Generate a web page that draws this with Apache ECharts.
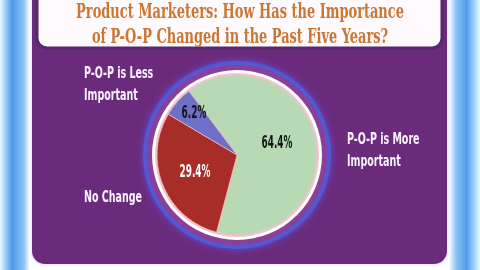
<!DOCTYPE html>
<html><head><meta charset="utf-8">
<script src="https://cdn.jsdelivr.net/npm/echarts@6/dist/echarts.min.js"></script>
<style>html,body{margin:0;padding:0;background:#eef7ff;}#c{width:480px;height:270px;}</style>
</head><body><div id="c"></div>
<script>
// ---- data ----
const titleLines = ['Product Marketers: How Has the Importance', 'of P-O-P Changed in the Past Five Years?'];
const categories = ['P-O-P is More\nImportant', 'No Change', 'P-O-P is Less\nImportant'];
const values = [64.4, 29.4, 6.2];

// ---- styles / layout ----
const sliceColors = ['#b7dab5', '#a82d28', '#6e6fc6'];
const pctColors = ['#141414', '#ffffff', '#141414'];
const CX = 237, CY = 155, R = 80;
const labelPos = [[347, 129], [84, 187], [84, 63]];
const pctShift = [[-4, -3], [-4, 1], [-20, -13]];
const cond = "'DejaVu Sans Condensed','DejaVu Sans',sans-serif";
const slab = "'DejaVu Serif Condensed','DejaVu Serif',serif";

const chart = echarts.init(document.getElementById('c'), null, {renderer: 'canvas'});
const LG = echarts.graphic.LinearGradient;

const graphics = [
  {type: 'rect', z: -10, silent: true, shape: {x: 0, y: 0, width: 480, height: 270},
   style: {fill: new LG(0, 0, 1, 0, [
     {offset: 0, color: '#e6fbff'}, {offset: 0.025, color: '#4f9aea'},
     {offset: 0.05, color: '#8cc4f4'}, {offset: 0.062, color: '#ffffff'},
     {offset: 0.935, color: '#ffffff'}, {offset: 0.95, color: '#8cc4f4'},
     {offset: 0.972, color: '#4f9aea'}, {offset: 1, color: '#e6fbff'}])}},
  {type: 'rect', z: -9, silent: true, shape: {x: 31, y: -20, width: 417, height: 285, r: 14},
   style: {fill: '#6b2b7d', stroke: '#f4ecff', lineWidth: 2}},
  {type: 'rect', z: -8, silent: true, shape: {x: 37, y: -20, width: 405, height: 68, r: 10},
   style: {fill: '#fffafd', stroke: '#57286a', lineWidth: 3}},
  {type: 'circle', z: -7, silent: true, shape: {cx: CX, cy: CY, r: R + 14},
   style: {fill: '#5558d0', shadowBlur: 6, shadowColor: 'rgba(80,90,255,0.8)'}},
  {type: 'circle', z: -6, silent: true, shape: {cx: CX, cy: CY, r: R + 10},
   style: {fill: '#8a3f98'}},
  {type: 'circle', z: -5, silent: true, shape: {cx: CX, cy: CY, r: R + 5},
   style: {fill: '#ffffff'}},
  {type: 'circle', z: -4, silent: true, shape: {cx: CX, cy: CY, r: R + 2},
   style: {fill: '#ecc4d6'}}
];
titleLines.forEach((t, i) => {
  graphics.push({type: 'text', silent: true, x: 240, y: 13 + i * 25, scaleX: 0.72,
    style: {text: t, font: 'bold 20px ' + slab, fill: '#cc7632',
            align: 'center', verticalAlign: 'middle', textAlign: 'center', textVerticalAlign: 'middle'}});
});
categories.forEach((c, i) => {
  graphics.push({type: 'text', silent: true, x: labelPos[i][0], y: labelPos[i][1], scaleX: 0.66,
    style: {text: c, font: 'bold 16px ' + cond, fill: '#fbf4ff', lineHeight: 22}});
});

chart.setOption({
  animation: false,
  graphic: graphics,
  series: [{
    type: 'pie', center: [CX, CY], radius: R, startAngle: 127, clockwise: true,
    silent: true, avoidLabelOverlap: false,
    itemStyle: {borderColor: 'rgba(255,190,190,0.7)', borderWidth: 1},
    label: {show: true, position: 'inside', formatter: '{c}%', fontSize: 18,
            fontFamily: cond, fontWeight: 'bold'},
    labelLine: {show: false},
    labelLayout: p => ({dx: pctShift[p.dataIndex][0], dy: pctShift[p.dataIndex][1]}),
    data: values.map((v, i) => ({name: categories[i], value: v,
      itemStyle: {color: sliceColors[i]}, label: {color: pctColors[i]}}))
  }]
});

// condense the percentage labels horizontally (reference uses a narrow face)
function condenseLabels() {
  const data = chart.getModel().getSeriesByIndex(0).getData();
  values.forEach((v, i) => {
    const el = data.getItemGraphicEl(i);
    const txt = el && el.getTextContent && el.getTextContent();
    if (txt) { txt.scaleX = 0.55; txt.markRedraw(); }
  });
  chart.getZr().refreshImmediately();
}
condenseLabels();
</script></body></html>
